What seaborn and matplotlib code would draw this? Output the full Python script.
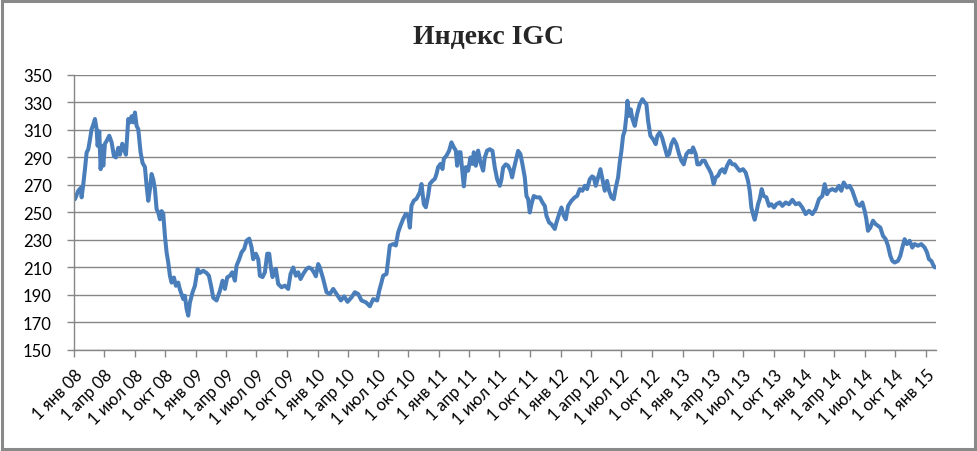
import pandas as pd
import matplotlib
matplotlib.use("Agg")
import matplotlib.pyplot as plt
from matplotlib.patches import Rectangle
import seaborn as sns

# IGC index, values
dates = [
    "2008-01-04", "2008-01-14", "2008-01-22", "2008-01-24", "2008-01-29", "2008-02-03", "2008-02-08",
    "2008-02-13", "2008-02-18", "2008-02-23", "2008-02-28", "2008-03-04", "2008-03-09", "2008-03-12",
    "2008-03-17", "2008-03-21", "2008-03-26", "2008-03-29", "2008-04-03", "2008-04-08", "2008-04-16",
    "2008-04-23", "2008-04-30", "2008-05-06", "2008-05-13", "2008-05-18", "2008-05-25", "2008-05-30",
    "2008-06-05", "2008-06-12", "2008-06-17", "2008-06-22", "2008-06-27", "2008-07-02", "2008-07-07",
    "2008-07-12", "2008-07-19", "2008-07-25", "2008-08-01", "2008-08-06", "2008-08-11", "2008-08-16",
    "2008-08-21", "2008-08-26", "2008-08-31", "2008-09-05", "2008-09-10", "2008-09-15", "2008-09-20",
    "2008-09-25", "2008-09-30", "2008-10-05", "2008-10-10", "2008-10-15", "2008-10-20", "2008-10-27",
    "2008-11-02", "2008-11-09", "2008-11-14", "2008-11-19", "2008-11-24", "2008-11-29", "2008-12-04",
    "2008-12-09", "2008-12-14", "2008-12-22", "2008-12-29",
    "2009-01-06", "2009-01-13", "2009-01-23", "2009-02-02", "2009-02-09", "2009-02-16", "2009-02-22",
    "2009-03-04", "2009-03-14", "2009-03-22", "2009-03-29", "2009-04-05", "2009-04-13", "2009-04-20",
    "2009-04-28", "2009-05-03", "2009-05-11", "2009-05-18", "2009-05-26", "2009-06-02", "2009-06-10",
    "2009-06-17", "2009-06-22", "2009-06-30", "2009-07-07", "2009-07-12", "2009-07-20", "2009-07-27",
    "2009-08-03", "2009-08-09", "2009-08-14", "2009-08-19", "2009-08-24", "2009-08-29", "2009-09-05",
    "2009-09-15", "2009-09-25", "2009-10-05", "2009-10-12", "2009-10-20", "2009-10-28", "2009-11-04",
    "2009-11-11", "2009-11-19", "2009-11-29", "2009-12-06", "2009-12-14", "2009-12-21", "2009-12-27",
    "2010-01-03", "2010-01-08", "2010-01-18", "2010-01-28", "2010-02-07", "2010-02-17", "2010-02-27",
    "2010-03-12", "2010-03-22", "2010-04-01", "2010-04-13", "2010-04-23", "2010-05-03", "2010-05-13",
    "2010-05-26", "2010-06-07", "2010-06-17", "2010-06-29", "2010-07-05", "2010-07-12", "2010-07-17",
    "2010-07-27", "2010-08-01", "2010-08-06", "2010-08-16", "2010-08-24", "2010-08-31", "2010-09-07",
    "2010-09-15", "2010-09-23", "2010-09-30", "2010-10-05", "2010-10-10", "2010-10-17", "2010-10-25",
    "2010-11-04", "2010-11-09", "2010-11-16", "2010-11-22", "2010-11-29", "2010-12-04", "2010-12-12",
    "2010-12-19", "2010-12-24", "2010-12-29",
    "2011-01-05", "2011-01-11", "2011-01-15", "2011-01-23", "2011-01-31", "2011-02-07", "2011-02-14",
    "2011-02-20", "2011-02-24", "2011-03-02", "2011-03-06", "2011-03-12", "2011-03-16", "2011-03-22",
    "2011-03-29", "2011-04-05", "2011-04-11", "2011-04-15", "2011-04-21", "2011-04-28", "2011-05-05",
    "2011-05-13", "2011-05-18", "2011-05-25", "2011-06-02", "2011-06-10", "2011-06-17", "2011-06-24",
    "2011-07-02", "2011-07-07", "2011-07-12", "2011-07-20", "2011-07-27", "2011-08-03", "2011-08-08",
    "2011-08-13", "2011-08-19", "2011-08-26", "2011-09-02", "2011-09-08", "2011-09-15", "2011-09-20",
    "2011-09-25", "2011-09-30", "2011-10-05", "2011-10-12", "2011-10-20", "2011-10-30", "2011-11-07",
    "2011-11-14", "2011-11-19", "2011-11-27", "2011-12-04", "2011-12-14", "2011-12-19", "2011-12-27",
    "2012-01-03", "2012-01-10", "2012-01-16", "2012-01-23", "2012-02-02", "2012-02-12", "2012-02-19",
    "2012-02-27", "2012-03-06", "2012-03-13", "2012-03-20", "2012-03-28", "2012-04-04", "2012-04-09",
    "2012-04-15", "2012-04-22", "2012-04-29", "2012-05-05", "2012-05-12", "2012-05-19", "2012-05-25",
    "2012-06-01", "2012-06-08", "2012-06-14", "2012-06-21", "2012-06-26", "2012-07-01", "2012-07-06",
    "2012-07-11", "2012-07-16", "2012-07-19", "2012-07-24", "2012-07-29", "2012-08-03", "2012-08-10",
    "2012-08-17", "2012-08-25", "2012-09-02", "2012-09-09", "2012-09-14", "2012-09-19", "2012-09-26",
    "2012-10-04", "2012-10-12", "2012-10-17", "2012-10-24", "2012-10-31", "2012-11-08", "2012-11-15",
    "2012-11-21", "2012-11-28", "2012-12-05", "2012-12-13", "2012-12-21", "2012-12-28",
    "2013-01-04", "2013-01-12", "2013-01-20", "2013-01-27", "2013-02-01", "2013-02-09", "2013-02-14",
    "2013-02-21", "2013-03-01", "2013-03-08", "2013-03-15", "2013-03-21", "2013-03-28", "2013-04-04",
    "2013-04-10", "2013-04-17", "2013-04-24", "2013-04-30", "2013-05-07", "2013-05-14", "2013-05-22",
    "2013-05-30", "2013-06-06", "2013-06-13", "2013-06-21", "2013-07-01", "2013-07-09", "2013-07-16",
    "2013-07-21", "2013-07-26", "2013-07-31", "2013-08-05", "2013-08-10", "2013-08-15", "2013-08-20",
    "2013-08-26", "2013-09-01", "2013-09-09", "2013-09-17", "2013-09-24", "2013-10-02", "2013-10-09",
    "2013-10-19", "2013-10-27", "2013-11-06", "2013-11-16", "2013-11-26", "2013-12-06", "2013-12-16",
    "2013-12-26",
    "2014-01-05", "2014-01-15", "2014-01-25", "2014-02-04", "2014-02-14", "2014-02-24", "2014-03-03",
    "2014-03-10", "2014-03-16", "2014-03-26", "2014-04-05", "2014-04-15", "2014-04-22", "2014-04-29",
    "2014-05-09", "2014-05-17", "2014-05-25", "2014-06-01", "2014-06-08", "2014-06-16", "2014-06-24",
    "2014-07-01", "2014-07-06", "2014-07-11", "2014-07-18", "2014-07-26", "2014-08-03", "2014-08-10",
    "2014-08-17", "2014-08-25", "2014-09-02", "2014-09-09", "2014-09-16", "2014-09-22", "2014-09-29",
    "2014-10-09", "2014-10-16", "2014-10-22", "2014-10-29", "2014-11-05", "2014-11-13", "2014-11-21",
    "2014-11-28", "2014-12-08", "2014-12-18", "2014-12-28",
    "2015-01-04", "2015-01-10", "2015-01-17", "2015-01-24", "2015-01-28",
]

values = [
    259.7, 265.8, 268.0, 261.0, 270.6, 281.5, 293.6,
    296.0, 303.0, 310.6, 314.0, 318.0, 310.6, 298.5,
    309.0, 281.5, 298.5, 284.0, 300.0, 302.0, 305.8,
    301.0, 291.0, 290.0, 297.0, 292.0, 300.0, 296.0,
    292.0, 318.0, 315.5, 320.0, 315.5, 322.7, 313.0,
    310.6, 293.6, 286.0, 283.0, 269.4, 258.5, 267.0,
    278.0, 274.0, 267.0, 252.4, 250.0, 245.0, 251.0,
    249.0, 233.0, 221.0, 213.6, 204.0, 199.0, 202.7,
    196.7, 199.0, 194.0, 190.6, 187.0, 189.4, 180.0,
    175.0, 184.5, 192.0, 196.7,
    208.8, 206.0, 207.6, 206.0, 204.0, 196.0, 188.0,
    186.0, 193.0, 200.4, 194.4, 202.8, 204.0, 206.5,
    200.4, 211.3, 216.0, 221.0, 223.5, 229.5, 231.0,
    224.7, 216.0, 220.0, 216.0, 204.0, 203.0, 206.5,
    220.0, 220.0, 210.0, 203.0, 207.7, 209.0, 198.0,
    195.6, 196.8, 194.4, 205.3, 210.0, 204.0, 206.5,
    201.6, 205.3, 209.0, 210.0, 209.0, 206.5, 203.6,
    212.5, 210.0, 201.6, 192.0, 190.7, 194.4, 190.7,
    186.0, 189.0, 185.0, 188.3, 192.0, 190.7, 186.0,
    184.7, 181.8, 187.0, 186.0, 193.0, 199.2, 204.0,
    205.3, 216.0, 226.0, 227.0, 226.0, 235.6, 240.4,
    245.3, 249.0, 247.7, 239.0, 255.0, 258.6, 260.0,
    264.7, 270.7, 256.0, 253.8, 262.2, 270.7, 273.0,
    274.4, 278.0, 283.0,
    285.3, 281.6, 289.0, 291.3, 295.0, 301.0, 297.4,
    295.0, 284.0, 293.8, 293.8, 279.0, 269.0, 283.0,
    280.4, 290.0, 285.3, 293.8, 284.0, 295.0, 286.5,
    280.4, 290.0, 295.0, 296.0, 294.8, 282.7, 274.2,
    269.4, 274.2, 282.7, 285.0, 284.0, 280.3, 275.5,
    281.5, 287.6, 294.8, 292.4, 285.0, 275.5, 262.0,
    259.7, 250.0, 256.0, 262.0, 261.0, 261.0, 257.3,
    254.8, 247.6, 242.7, 241.5, 238.0, 242.7, 248.8,
    253.6, 247.6, 245.0, 254.8, 258.5, 261.0, 262.0,
    267.0, 265.8, 269.4, 267.0, 274.2, 276.2, 275.5,
    269.4, 275.5, 281.5, 274.2, 265.8, 273.0, 265.8,
    261.0, 259.7, 268.0, 275.5, 286.4, 294.8, 305.8,
    309.4, 320.3, 331.2, 320.3, 325.0, 318.0, 313.0,
    321.5, 328.8, 332.4, 330.0, 328.8, 316.7, 305.8,
    303.3, 299.7, 305.8, 308.2, 304.5, 297.3, 291.2,
    292.4, 299.7, 303.3, 299.7, 292.4, 287.6,
    285.0, 292.4, 294.8, 293.6, 297.3, 292.4, 285.0,
    285.0, 287.6, 287.6, 284.0, 281.5, 278.0, 270.6,
    275.5, 276.7, 280.3, 281.5, 279.0, 284.0, 287.6,
    285.0, 285.0, 282.7, 280.3, 281.5, 279.0, 273.0,
    265.8, 253.6, 248.8, 244.7, 250.0, 256.0, 259.7,
    267.0, 262.0, 261.0, 254.8, 256.0, 253.6, 256.0,
    257.3, 254.8, 257.3, 256.0, 259.2, 256.0, 256.8,
    253.6,
    248.8, 251.2, 248.8, 252.4, 259.7, 262.0, 270.6,
    263.3, 265.8, 267.0, 265.8, 269.4, 265.8, 271.8,
    268.2, 269.4, 265.8, 261.0, 256.0, 254.8, 257.3,
    251.2, 245.2, 236.7, 239.0, 244.0, 241.5, 240.3,
    239.0, 233.0, 230.6, 225.8, 218.5, 214.8, 213.6,
    214.8, 218.5, 224.5, 230.6, 227.0, 229.4, 224.5,
    227.0, 225.8, 227.0, 224.5,
    221.0, 216.0, 214.8, 211.2, 210.0,
]

month_names = ["янв", "апр", "июл", "окт"]
tick_dates = pd.date_range("2008-01-01", "2015-01-01", freq="QS")
tick_labels = [f"1 {month_names[(d.month - 1) // 3]} {d.year % 100:02d}" for d in tick_dates]
y_ticks = list(range(150, 351, 20))

df = pd.DataFrame({"date": pd.to_datetime(dates), "value": values})

sns.set_theme(style="white")
plt.rcParams["font.family"] = ["Lato", "DejaVu Sans"]

fig = plt.figure(figsize=(9.77, 4.52), dpi=100)
ax = fig.add_axes([0.0757, 0.2235, 0.8823, 0.6084])

sns.lineplot(data=df, x="date", y="value", ax=ax, color="#4a7ebb", linewidth=2.9)

grid_color = "#868686"
ax.set_ylim(150, 350)
ax.set_yticks(y_ticks)
ax.set_xlim(pd.Timestamp("2008-01-01"), pd.Timestamp("2015-01-31"))
ax.set_xticks(tick_dates)
ax.set_xticklabels(tick_labels, rotation=45, ha="right", va="top", rotation_mode="anchor")
ax.yaxis.grid(True, color=grid_color, linewidth=1.0)
ax.xaxis.grid(False)
ax.set_axisbelow(True)
ax.set_xlabel("")
ax.set_ylabel("")

for side in ["top", "right"]:
    ax.spines[side].set_visible(False)
for side in ["left", "bottom"]:
    ax.spines[side].set_color(grid_color)
    ax.spines[side].set_linewidth(1.0)

ax.tick_params(axis="both", which="both", direction="out", length=5, width=1.0,
               color=grid_color, labelsize=12, labelcolor="black")
ax.tick_params(axis="x", pad=7)
ax.tick_params(axis="y", pad=11)
ax.tick_params(bottom=True, left=True)

fig.suptitle("Индекс IGC", x=0.5, y=0.945, fontsize=20, fontweight="bold",
             family="Liberation Serif")

fig.patches.append(Rectangle((0.002, 0.004), 0.996, 0.992, transform=fig.transFigure,
                             fill=False, edgecolor="#898989", linewidth=2.2))

fig.savefig("out.png", dpi=100)
plt.close(fig)
